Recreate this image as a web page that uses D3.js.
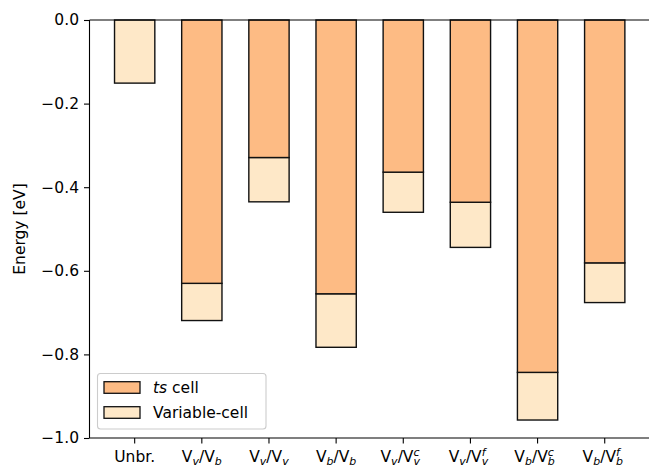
<!DOCTYPE html>
<html>
<head>
<meta charset="utf-8">
<script src="https://cdn.jsdelivr.net/npm/d3@7"></script>
<style>
  body { margin: 0; background: #fff; }
  text { font-family: "DejaVu Sans", sans-serif; }
</style>
</head>
<body>
<svg id="chart" width="649" height="468"></svg>
<script>
// label parts: base sub / base sub sup
const labels = [
  { text: "Unbr." },
  { a: "v", b: "b", s: "" },
  { a: "v", b: "v", s: "" },
  { a: "b", b: "b", s: "" },
  { a: "v", b: "v", s: "c" },
  { a: "v", b: "v", s: "f" },
  { a: "b", b: "b", s: "c" },
  { a: "b", b: "b", s: "f" }
];
const categories = ["Unbr.", "Vv/Vb", "Vv/Vv", "Vb/Vb", "Vv/Vvc", "Vv/Vvf", "Vb/Vbc", "Vb/Vbf"];
// ts cell relaxation energy and total with variable-cell
const tsCell = [0, -0.630, -0.329, -0.655, -0.364, -0.436, -0.843, -0.581];
const varCell = [-0.151, -0.719, -0.435, -0.783, -0.460, -0.544, -0.957, -0.676];
const yTicks = [0, -0.2, -0.4, -0.6, -0.8, -1.0];

const tsColor = "#fdbb84";
const varColor = "#fee8c8";

const svg = d3.select("#chart");
const mLeft = 89.5, mTop = 20, mBottom = 438, mRight = 649;

const x = d3.scaleBand()
  .domain(categories)
  .range([101.1, 638.3])
  .paddingInner(0.4)
  .paddingOuter(0.2);

const y = d3.scaleLinear().domain([-1, 0]).range([mBottom, mTop]);

// bars: variable-cell part below, ts cell from zero
const g = svg.append("g");
g.selectAll("rect.var")
  .data(categories)
  .join("rect")
  .attr("class", "var")
  .attr("x", d => x(d))
  .attr("width", x.bandwidth())
  .attr("y", (d, i) => y(tsCell[i]))
  .attr("height", (d, i) => y(varCell[i]) - y(tsCell[i]))
  .attr("fill", varColor)
  .attr("stroke", "#111")
  .attr("stroke-width", 1.4);

g.selectAll("rect.ts")
  .data(categories.filter((d, i) => tsCell[i] !== 0))
  .join("rect")
  .attr("class", "ts")
  .attr("x", d => x(d))
  .attr("width", x.bandwidth())
  .attr("y", y(0))
  .attr("height", d => y(tsCell[categories.indexOf(d)]) - y(0))
  .attr("fill", tsColor)
  .attr("stroke", "#111")
  .attr("stroke-width", 1.4);

// y axis
const fmt = v => (v < 0 ? "\u2212" : "") + Math.abs(v).toFixed(1);
const yAxis = svg.append("g")
  .attr("transform", `translate(${mLeft},0)`)
  .call(d3.axisLeft(y).tickValues(yTicks).tickFormat(fmt).tickSize(5.5).tickPadding(5));
yAxis.select(".domain").remove();
yAxis.selectAll("text").attr("font-size", 15.5).attr("fill", "#000")
  .style("font-family", "DejaVu Sans");
yAxis.selectAll("line").attr("stroke", "#000").attr("stroke-width", 1.1);

// x axis
const xAxis = svg.append("g")
  .attr("transform", `translate(0,${mBottom})`)
  .call(d3.axisBottom(x).tickSize(5.5).tickFormat(""));
xAxis.select(".domain").remove();
xAxis.selectAll("line").attr("stroke", "#000").attr("stroke-width", 1.1);

// spines
svg.append("line").attr("x1", mLeft).attr("x2", mLeft).attr("y1", mTop).attr("y2", mBottom)
  .attr("stroke", "#000").attr("stroke-width", 1.1);
svg.append("line").attr("x1", mLeft).attr("x2", mRight).attr("y1", mTop).attr("y2", mTop)
  .attr("stroke", "#000").attr("stroke-width", 1.1);
svg.append("line").attr("x1", mLeft).attr("x2", mRight).attr("y1", mBottom).attr("y2", mBottom)
  .attr("stroke", "#000").attr("stroke-width", 1.1);

// x tick labels with sub/superscripts
const fs = 15.5, small = 11;
labels.forEach(function (l, i) {
  const cx = x(categories[i]) + x.bandwidth() / 2;
  const t = svg.append("text")
    .attr("y", 462)
    .attr("font-size", fs)
    .attr("fill", "#000");
  if (l.text) {
    t.text(l.text);
  } else {
    t.append("tspan").text("V");
    t.append("tspan").attr("font-size", small).attr("font-style", "italic")
      .attr("dy", 3).text(l.a);
    t.append("tspan").attr("dy", -3).text("/V");
    const sub = t.append("tspan").attr("font-size", small).attr("font-style", "italic")
      .attr("dy", 3).text(l.b);
    if (l.s) {
      const w = sub.node().getComputedTextLength();
      t.append("tspan").attr("font-size", small).attr("font-style", "italic")
        .attr("dx", -w).attr("dy", -9).text(l.s);
    }
  }
  const w = t.node().getComputedTextLength();
  t.attr("x", cx - w / 2);
});

// y label
svg.append("text")
  .attr("transform", `translate(25,${(mTop + mBottom) / 2}) rotate(-90)`)
  .attr("text-anchor", "middle")
  .attr("font-size", fs)
  .text("Energy [eV]");

// legend
const lg = svg.append("g");
lg.append("rect")
  .attr("x", 97.5).attr("y", 373.5).attr("width", 168.5).attr("height", 55.5)
  .attr("rx", 3).attr("fill", "#fff").attr("fill-opacity", 0.8)
  .attr("stroke", "#ccc").attr("stroke-width", 1.1);
const items = [
  { color: tsColor, label: "ts" },
  { color: varColor, label: "Variable-cell" }
];
items.forEach(function (it, i) {
  const yy = 381.7 + i * 25;
  lg.append("rect").attr("x", 104).attr("y", yy).attr("width", 36).attr("height", 11.6)
    .attr("fill", it.color).attr("stroke", "#111").attr("stroke-width", 1.3);
  const t = lg.append("text").attr("x", 153).attr("y", yy + 11.5).attr("font-size", fs);
  if (i === 0) {
    t.append("tspan").attr("font-style", "italic").text("ts");
    t.append("tspan").text(" cell");
  } else {
    t.text(it.label);
  }
});
</script>
</body>
</html>
